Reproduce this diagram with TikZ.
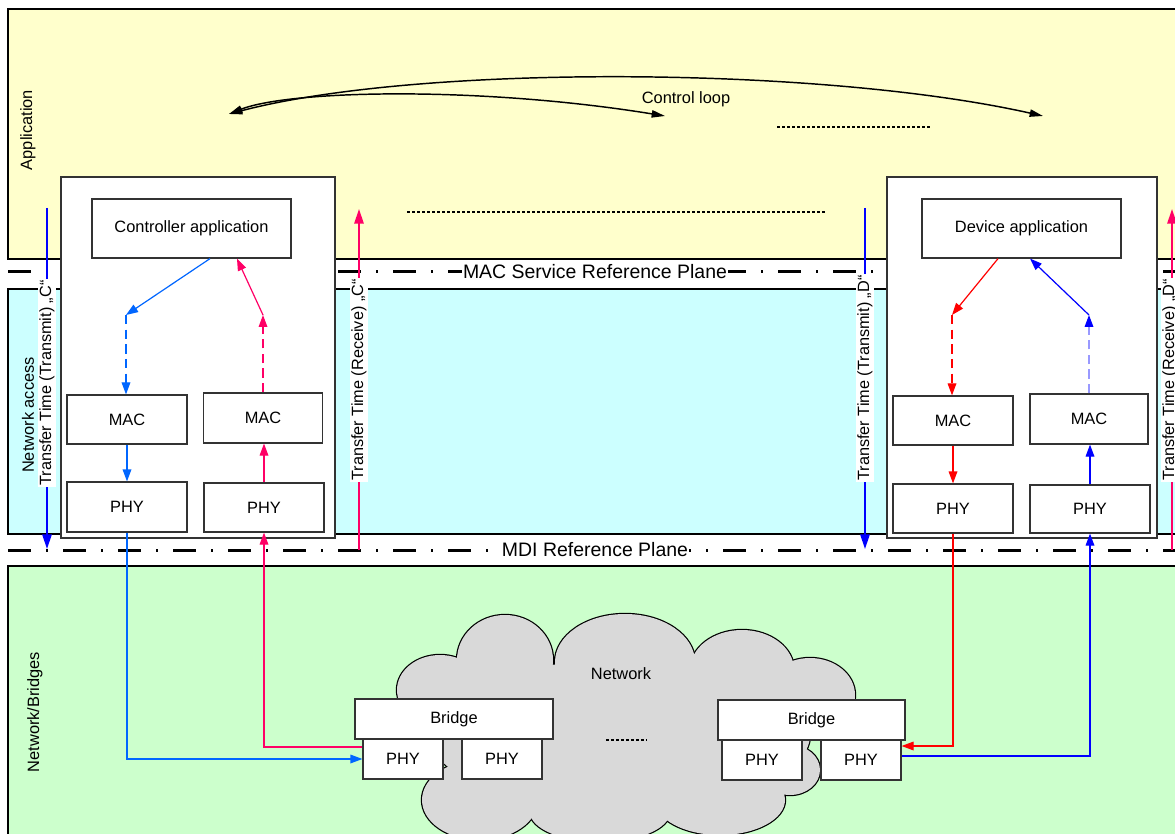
\documentclass[tikz,border=0pt]{standalone}
\usepackage{fontspec}
\setmainfont{Liberation Sans}
\usetikzlibrary{arrows.meta}

\definecolor{appyellow}{RGB}{255,255,204}
\definecolor{netcyan}{RGB}{204,255,255}
\definecolor{bridgegreen}{RGB}{204,255,204}
\definecolor{cloudgray}{RGB}{217,217,217}
\definecolor{ctrlblue}{RGB}{0,102,255}
\definecolor{ctrlpink}{RGB}{255,0,102}
\definecolor{devred}{RGB}{255,0,0}
\definecolor{devblue}{RGB}{0,0,255}
\definecolor{devpale}{RGB}{153,153,255}

\tikzset{
  box/.style={draw=black!80, fill=white, line width=0.9pt, inner sep=0pt, font=\fontsize{12.3}{14}\selectfont},
  band/.style={draw=black, line width=0.9pt},
  plane/.style={line width=2.25pt, dash pattern=on 17.25pt off 11.25pt on 1.5pt off 11.25pt},
  planelabel/.style={fill=white, inner sep=1pt, font=\fontsize{14.6}{17}\selectfont},
  flow/.style={line width=0.9pt, -{Triangle[length=9pt,width=6.5pt]}},
  dashpat/.style={dash pattern=on 7pt off 4pt},
  timeline/.style={line width=1.5pt, -{Triangle[length=11pt,width=7pt]}},
  timelabel/.style={rotate=90, fill=white, inner sep=1pt, font=\fontsize{12.2}{14}\selectfont},
  layerlabel/.style={rotate=90, font=\fontsize{12.3}{14}\selectfont},
  dotline/.style={line width=1.5pt, dash pattern=on 2.25pt off 1.5pt},
  ctrlarc/.style={line width=1.1pt, {Triangle[length=10pt,width=5.5pt]}-{Triangle[length=10pt,width=5.5pt]}},
}

\begin{document}
\begin{tikzpicture}[x=0.75pt,y=0.75pt,yscale=-1]
\useasboundingbox (0,0) rectangle (1175,834);
\clip (0,0) rectangle (1175,834);
\fill[white] (0,0) rectangle (1175,834);

% Layer bands
\draw[band, fill=appyellow] (8,9) rectangle (1190,259);
\draw[band, fill=netcyan] (8,289) rectangle (1190,534);
\draw[band, fill=bridgegreen] (8,566) rectangle (1190,850);

% Text Node
\node[layerlabel] (lapp) at (28,130) {Application};
% Text Node
\node[layerlabel] (lnet) at (28,415) {Network access};
% Text Node
\node[layerlabel] (lbri) at (35,712) {Network/Bridges};

% Reference planes
\draw[plane] (8,272) -- (1180,272);
\draw[plane] (8,550) -- (1180,550);
\node[planelabel] (macplane) at (595,272) {MAC Service Reference Plane};
\node[planelabel] (mdiplane) at (595,550) {MDI Reference Plane};

% Transfer times
\coordinate (tcT0) at (47,208);  \coordinate (tcT1) at (47,549);
\coordinate (tcR0) at (359,550); \coordinate (tcR1) at (359,209);
\coordinate (tdT0) at (865,208); \coordinate (tdT1) at (865,549);
\coordinate (tdR0) at (1172,550); \coordinate (tdR1) at (1172,209);
\draw[timeline, devblue] (tcT0) -- (tcT1);
\draw[timeline, ctrlpink] (tcR0) -- (tcR1);
\draw[timeline, devblue] (tdT0) -- (tdT1);
\draw[timeline, ctrlpink] (tdR0) -- (tdR1);
% Text Node
\node[timelabel] (tcTlab) at (47,383) {Transfer Time (Transmit) „C“};
% Text Node
\node[timelabel] (tcRlab) at (359,380) {Transfer Time (Receive) „C“};
% Text Node
\node[timelabel] (tdTlab) at (865,378) {Transfer Time (Transmit) „D“};
% Text Node
\node[timelabel] (tdRlab) at (1170,380) {Transfer Time (Receive) „D“};

% Control loop
\coordinate (loopL) at (229,114);
\coordinate (loopM) at (665,116);
\coordinate (loopR) at (1043,116);
\draw[ctrlarc] (loopL) .. controls (290,90) and (480,86) .. (loopM);
\draw[ctrlarc] (loopL) .. controls (420,64) and (820,66) .. (loopR);
\node[font=\fontsize{12.3}{14}\selectfont] (looplab) at (686,99) {Control loop};
\draw[dotline] (777,127) -- (932,127);
\draw[dotline] (407,212) -- (826,212);

% Controller
\node[box, minimum width=205.5pt, minimum height=270.75pt] (ctrl) at (198,357.5) {};
\node[box, minimum width=149.25pt, minimum height=44.25pt] (capp) at (191.5,228.5) {Controller application};
\node[box, minimum width=90pt, minimum height=36.75pt] (cmacT) at (127,419.5) {MAC};
\node[box, minimum width=89.25pt, minimum height=37.5pt] (cmacR) at (263,418) {MAC};
\node[box, minimum width=90pt, minimum height=37.5pt] (cphyT) at (127,507) {PHY};
\node[box, minimum width=90pt, minimum height=36.75pt] (cphyR) at (264,507.5) {PHY};

% Device
\node[box, minimum width=202.5pt, minimum height=270.75pt] (dev) at (1022,357.5) {};
\node[box, minimum width=149.25pt, minimum height=44.25pt] (dapp) at (1021.5,228.5) {Device application};
\node[box, minimum width=90pt, minimum height=36.75pt] (dmacT) at (953,420.5) {MAC};
\node[box, minimum width=88.5pt, minimum height=37.5pt] (dmacR) at (1089,419) {MAC};
\node[box, minimum width=90pt, minimum height=36.75pt] (dphyT) at (953,508.5) {PHY};
\node[box, minimum width=90pt, minimum height=36pt] (dphyR) at (1090,509) {PHY};

% Network cloud
\foreach \cx/\cy/\rx/\ry in {440/690/43/35, 505/660/48/45, 625/662/70/48, 742/670/52/40, 810/695/45/37,
    620/735/190/75, 480/800/58/40, 600/812/70/30, 720/800/65/35, 790/770/30/25}
  \draw[line width=1.8pt] (\cx,\cy) ellipse [x radius=\rx, y radius=\ry];
\foreach \cx/\cy/\rx/\ry in {440/690/43/35, 505/660/48/45, 625/662/70/48, 742/670/52/40, 810/695/45/37,
    620/735/190/75, 480/800/58/40, 600/812/70/30, 720/800/65/35, 790/770/30/25}
  \fill[cloudgray] (\cx,\cy) ellipse [x radius=\rx, y radius=\ry];
% Text Node
\node[font=\fontsize{12.3}{14}\selectfont] (netlab) at (621,674) {Network};
\draw[dotline] (606,740) -- (647,740);

% Bridges
\node[box, minimum width=148.5pt, minimum height=30pt] (bridgeL) at (454,719) {Bridge};
\node[box, minimum width=60pt, minimum height=30pt] (bphyL1) at (403,759) {PHY};
\node[box, minimum width=60pt, minimum height=30pt] (bphyL2) at (502,759) {PHY};
\node[box, minimum width=140.25pt, minimum height=30pt] (bridgeR) at (811.5,720) {Bridge};
\node[box, minimum width=60pt, minimum height=30pt] (bphyR1) at (762,760) {PHY};
\node[box, minimum width=60pt, minimum height=30pt] (bphyR2) at (861,760) {PHY};

% Controller paths
\coordinate (cT) at (126,315);
\coordinate (cR) at (263,315);
\draw[flow, ctrlblue] ([xshift=13.9pt]capp.south) -- (cT);
\draw[flow, ctrlblue, dashpat] (cT) -- (cT |- cmacT.north);
\draw[flow, ctrlblue] (cmacT.south) -- (cphyT.north);
\draw[flow, ctrlblue] (cphyT.south) |- (bphyL1.west);
\draw[flow, ctrlpink] ([yshift=-9pt]bphyL1.west) -| (cphyR.south);
\draw[flow, ctrlpink] (cphyR.north) -- (cphyR.north |- cmacR.south);
\draw[flow, ctrlpink, dashpat] (cmacR.north) -- (cR);
\draw[flow, ctrlpink] (cR) -- ([xshift=34.1pt]capp.south);

% Device paths
\coordinate (dT) at (952,315);
\coordinate (dR) at (1089,315);
\draw[flow, devred] ([xshift=-17.6pt]dapp.south) -- (dT);
\draw[flow, devred, dashpat] (dT) -- (dT |- dmacT.north);
\draw[flow, devred] (dmacT.south) -- (dphyT.north);
\draw[flow, devred] (dphyT.south) |- ([yshift=-10.5pt]bphyR2.east);
\draw[flow, devblue] ([yshift=-3pt]bphyR2.east) -| (dphyR.south);
\draw[flow, devblue] (dphyR.north) -- (dphyR.north |- dmacR.south);
\draw[line width=0.9pt, devpale, dashpat, -{Triangle[length=9pt,width=6.5pt,color=devblue]}] (dmacR.north) -- (dR);
\draw[flow, devblue] (dR) -- ([xshift=6.4pt]dapp.south);

\end{tikzpicture}
\end{document}
